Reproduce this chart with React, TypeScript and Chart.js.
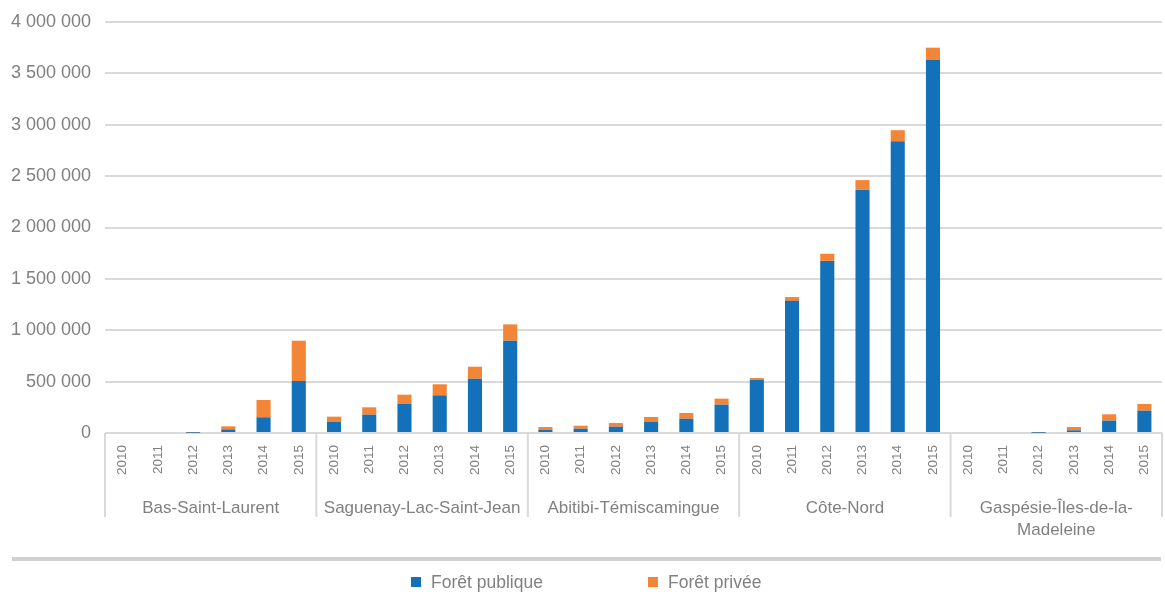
import { useEffect, useRef } from "react";
import { Chart, registerables } from "chart.js";

Chart.register(...registerables);

const regions: string[][] = [
  ["Bas-Saint-Laurent"],
  ["Saguenay-Lac-Saint-Jean"],
  ["Abitibi-Témiscamingue"],
  ["Côte-Nord"],
  ["Gaspésie-Îles-de-la-", "Madeleine"],
];
const years = ["2010", "2011", "2012", "2013", "2014", "2015"];

const seriesNames = ["Forêt publique", "Forêt privée"];

const publicValues = [
  0, 0, 3000, 35000, 153000, 506000,
  107000, 178000, 285000, 367000, 528000, 898000,
  29000, 42000, 61000, 110000, 139000, 276000,
  519000, 1286000, 1675000, 2366000, 2840000, 3630000,
  0, 0, 3000, 26000, 120000, 217000,
];
const privateValues = [
  0, 0, 6000, 30000, 168000, 392000,
  52000, 72000, 88000, 107000, 117000, 159000,
  29000, 29000, 36000, 46000, 56000, 58000,
  16000, 37000, 70000, 95000, 107000, 120000,
  0, 0, 5000, 32000, 62000, 65000,
];

const yMin = 0;
const yMax = 4000000;
const yStep = 500000;

const BLUE = "#1271b8";
const ORANGE = "#f28536";
const TEXT = "#808080";
const GRID = "#d9d9d9";
const FONT = "'Liberation Sans', Arial, sans-serif";

const categoryLabels = regions.flatMap(() => years);

function fmt(v: number): string {
  return String(Math.round(v)).replace(/\B(?=(\d{3})+(?!\d))/g, " ");
}

const groupPlugin = {
  id: "groupPlugin",
  afterDraw(chart: any) {
    const ctx = chart.ctx as CanvasRenderingContext2D;
    const xs = chart.scales.x;
    const area = chart.chartArea;
    const n = years.length;
    ctx.save();
    // separators
    ctx.strokeStyle = GRID;
    ctx.lineWidth = 2;
    for (let g = 0; g <= regions.length; g++) {
      let px: number;
      if (g === 0) px = area.left;
      else if (g === regions.length) px = area.right;
      else px = (xs.getPixelForValue(g * n - 1) + xs.getPixelForValue(g * n)) / 2;
      ctx.beginPath();
      ctx.moveTo(px, area.bottom);
      ctx.lineTo(px, 517);
      ctx.stroke();
    }
    // group labels
    ctx.fillStyle = TEXT;
    ctx.font = `17px ${FONT}`;
    ctx.textAlign = "center";
    ctx.textBaseline = "middle";
    regions.forEach((lines, g) => {
      const cx = (xs.getPixelForValue(g * n) + xs.getPixelForValue(g * n + n - 1)) / 2;
      lines.forEach((line, i) => {
        ctx.fillText(line, cx, 508 + i * 22);
      });
    });
    // grey band
    ctx.fillStyle = "#d0d0d0";
    ctx.fillRect(12, 557, 1149, 4);
    // legend
    ctx.font = `17.5px ${FONT}`;
    ctx.textAlign = "left";
    const colors = [BLUE, ORANGE];
    const starts = [411, 648];
    seriesNames.forEach((name, i) => {
      ctx.fillStyle = colors[i];
      ctx.fillRect(starts[i], 577, 10, 10);
      ctx.fillStyle = TEXT;
      ctx.fillText(name, starts[i] + 20, 583);
    });
    ctx.restore();
  },
};

export default function App() {
  const ref = useRef<HTMLCanvasElement | null>(null);
  useEffect(() => {
    if (!ref.current) return;
    const chart = new Chart(ref.current, {
      type: "bar",
      data: {
        labels: categoryLabels,
        datasets: [
          {
            label: seriesNames[0],
            data: publicValues,
            backgroundColor: BLUE,
            borderWidth: 0,
            barPercentage: 0.4,
            categoryPercentage: 1,
          },
          {
            label: seriesNames[1],
            data: privateValues,
            backgroundColor: ORANGE,
            borderWidth: 0,
            barPercentage: 0.4,
            categoryPercentage: 1,
          },
        ],
      },
      options: {
        responsive: false,
        animation: false,
        layout: { padding: { top: 22, right: 3, left: 0, bottom: 0 } },
        plugins: {
          legend: { display: false },
          tooltip: { enabled: false },
        },
        scales: {
          x: {
            stacked: true,
            grid: { display: false, drawTicks: false },
            border: { display: false },
            ticks: {
              minRotation: 90,
              maxRotation: 90,
              autoSkip: false,
              padding: 12,
              color: TEXT,
              font: { family: FONT, size: 13.5 },
            },
            afterFit(scale: any) {
              scale.height = 164;
              scale.paddingLeft = 0;
              scale.paddingRight = 0;
            },
          },
          y: {
            stacked: true,
            min: yMin,
            max: yMax,
            grid: { color: GRID, lineWidth: 2, drawTicks: false },
            border: { display: false },
            ticks: {
              stepSize: yStep,
              padding: 14,
              color: TEXT,
              font: { family: FONT, size: 18 },
              callback: (v: any) => fmt(Number(v)),
            },
            afterFit(scale: any) {
              scale.width = 105;
              scale.paddingTop = 0;
              scale.paddingBottom = 0;
            },
          },
        },
      },
      plugins: [groupPlugin],
    });
    return () => chart.destroy();
  }, []);
  return (
    <div style={{ position: "fixed", left: 0, top: 0, width: 1165, height: 597, background: "#fff" }}>
      <canvas ref={ref} width={1165} height={597} style={{ display: "block" }} />
    </div>
  );
}
